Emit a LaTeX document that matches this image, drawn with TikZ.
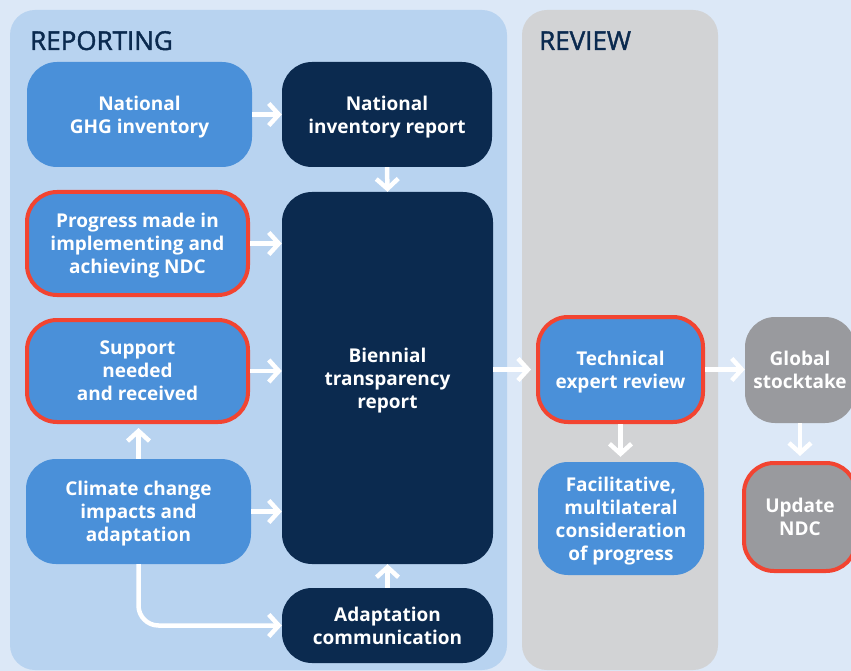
\documentclass[tikz,border=0pt]{standalone}
\usepackage{fontspec}
\setmainfont{Open Sans}
\newfontfamily\headfont[FakeBold=1.6]{Open Sans}
\usetikzlibrary{arrows.meta}

\definecolor{pagebg}{HTML}{DCE8F7}
\definecolor{reppanel}{HTML}{B8D3F0}
\definecolor{revpanel}{HTML}{D2D3D5}
\definecolor{lightnode}{HTML}{4A90D9}
\definecolor{navy}{HTML}{0B2A4F}
\definecolor{greynode}{HTML}{999A9E}
\definecolor{flagred}{HTML}{F24431}

\begin{document}
\begin{tikzpicture}[x=1pt,y=-1pt,
  box/.style={rounded corners=30pt, align=center, text=white, inner sep=0pt,
    text depth=0pt, font=\bfseries\fontsize{19}{23}\selectfont},
  lightbox/.style={box, fill=lightnode},
  darkbox/.style={box, fill=navy},
  greybox/.style={box, fill=greynode},
  flagged/.style={draw=flagred, line width=4pt},
  header/.style={anchor=base west, text=navy, inner sep=0pt,
    font=\headfont\fontsize{26}{30}\selectfont},
  flow/.style={draw=white, line width=4.5pt,
    -{Straight Barb[length=10pt,width=22pt]}},
]
\useasboundingbox (0,0) rectangle (851,671);
\fill[pagebg] (0,0) rectangle (851,671);

% column panels
\fill[reppanel, rounded corners=25pt] (10,10) rectangle (507,670);
\fill[revpanel, rounded corners=25pt] (522,10) rectangle (718,670);
\node[header] (hrep) at (30,50) {REPORTING};
\node[header] (hrev) at (539,50) {REVIEW};

% reporting column
\node[lightbox, minimum width=225pt, minimum height=105pt] (ghg) at (139.5,114.5)
  {National\\GHG inventory};
\node[darkbox, minimum width=210pt, minimum height=105pt] (nir) at (387,114.5)
  {National\\inventory report};
\node[lightbox, flagged, minimum width=221pt, minimum height=103pt] (prog) at (137.5,243.5)
  {Progress made in\\implementing and\\achieving NDC};
\node[lightbox, flagged, minimum width=221pt, minimum height=102pt] (supp) at (137.5,371)
  {Support\\needed\\and received};
\node[lightbox, minimum width=225pt, minimum height=105pt] (clim) at (138.5,511.5)
  {Climate change\\impacts and\\adaptation};
\node[darkbox, minimum width=211pt, minimum height=372pt] (btr) at (387.5,378)
  {Biennial\\transparency\\report};
\node[darkbox, minimum width=211pt, minimum height=75pt] (adc) at (387.5,625.5)
  {Adaptation\\communication};

% review column
\node[lightbox, flagged, minimum width=165pt, minimum height=105pt] (ter) at (620.5,369.5)
  {Technical\\expert review};
\node[lightbox, minimum width=166pt, minimum height=113pt] (fac) at (621,518.5)
  {Facilitative,\\multilateral\\consideration\\of progress};

% outcomes
\node[greybox, minimum width=110pt, minimum height=106pt] (gst) at (800,370)
  {Global\\stocktake};
\node[greybox, flagged, minimum width=112pt, minimum height=108pt] (upd) at (800,517)
  {Update\\NDC};

% connectors
\draw[flow] (ghg.east) -- (ghg.east -| nir.west);
\draw[flow] (nir.south) -- (btr.north);
\draw[flow] (prog.east) -- (prog.east -| btr.west);
\draw[flow] (supp.east) -- (supp.east -| btr.west);
\draw[flow] (clim.east) -- (clim.east -| btr.west);
\draw[flow, shorten >=4pt] (clim.north) -- (clim.north |- supp.south);
\draw[flow, rounded corners=20pt] (clim.south) |- (adc.west);
\draw[flow] (adc.north) -- (btr.south);
\draw[flow, shorten >=5pt] (ter.west -| btr.east) -- (ter.west);
\draw[flow] (ter.east) -- (ter.east -| gst.west);
\draw[flow, shorten >=5pt] (ter.south) -- (ter.south |- fac.north);
\draw[flow, shorten >=5pt] (gst.south) -- (upd.north);
\end{tikzpicture}
\end{document}
